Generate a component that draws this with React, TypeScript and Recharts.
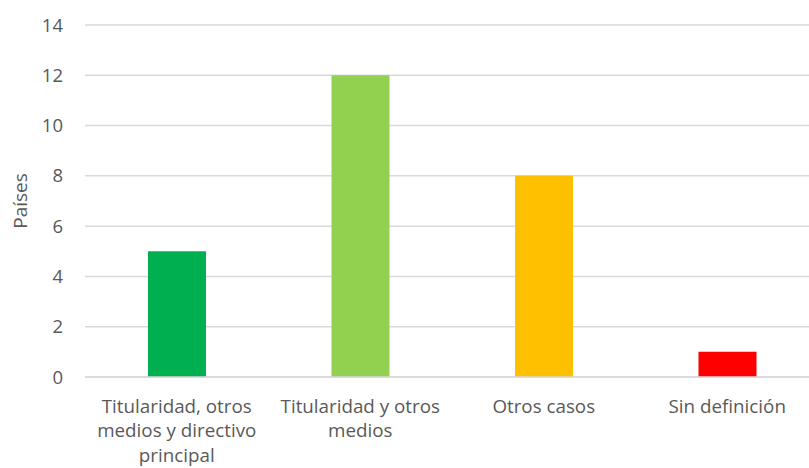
import React from "react";
import { BarChart, Bar, XAxis, YAxis, CartesianGrid, Cell } from "recharts";

const categories = [
  "Titularidad, otros medios y directivo principal",
  "Titularidad y otros medios",
  "Otros casos",
  "Sin definición",
];
const categoryLines = [
  ["Titularidad, otros", "medios y directivo", "principal"],
  ["Titularidad y otros", "medios"],
  ["Otros casos"],
  ["Sin definición"],
];
const values = [5, 12, 8, 1];
const colors = ["#00B050", "#92D050", "#FFC000", "#FF0000"];
const yTicks = [0, 2, 4, 6, 8, 10, 12, 14];
const yLabel = "Países";

const data = categories.map((c, i) => ({ name: c, value: values[i] }));

const FONT = "'Open Sans', sans-serif";
const TEXT = "#595959";

const XTick = (props: any) => {
  const { x, y, index } = props;
  const lines = categoryLines[index] || [];
  return (
    <text x={x} y={y} textAnchor="middle" fill={TEXT} fontFamily={FONT} fontSize={18.8}>
      {lines.map((l, i) => (
        <tspan key={i} x={x} dy={i === 0 ? 27.5 : 24.5}>
          {l}
        </tspan>
      ))}
    </text>
  );
};

const YLabel = () => (
  <text
    x={20}
    y={201}
    transform="rotate(-90 20 201)"
    textAnchor="middle"
    dominantBaseline="central"
    fill={TEXT}
    fontFamily={FONT}
    fontSize={19}
  >
    {yLabel}
  </text>
);

export default function App() {
  return (
    <div
      style={{
        position: "absolute",
        left: 0,
        top: 0,
        width: 809,
        height: 468,
        overflow: "hidden",
        background: "#fff",
      }}
    >
      <BarChart
        width={819}
        height={468}
        data={data}
        margin={{ top: 25, right: 0, left: 0, bottom: 0 }}
      >
        <CartesianGrid vertical={false} stroke="#d9d9d9" strokeWidth={1.5} />
        <XAxis
          dataKey="name"
          height={91}
          axisLine={{ stroke: "#d9d9d9", strokeWidth: 1.5 }}
          tickLine={false}
          tick={<XTick />}
          interval={0}
        />
        <YAxis
          width={85}
          domain={[0, 14]}
          ticks={yTicks}
          axisLine={false}
          tickLine={false}
          tickMargin={16}
          tick={{ fill: TEXT, fontFamily: FONT, fontSize: 18.5 }}
          label={<YLabel />}
        />
        <Bar dataKey="value" barSize={58} isAnimationActive={false}>
          {data.map((d, i) => (
            <Cell key={i} fill={colors[i]} />
          ))}
        </Bar>
      </BarChart>
    </div>
  );
}
